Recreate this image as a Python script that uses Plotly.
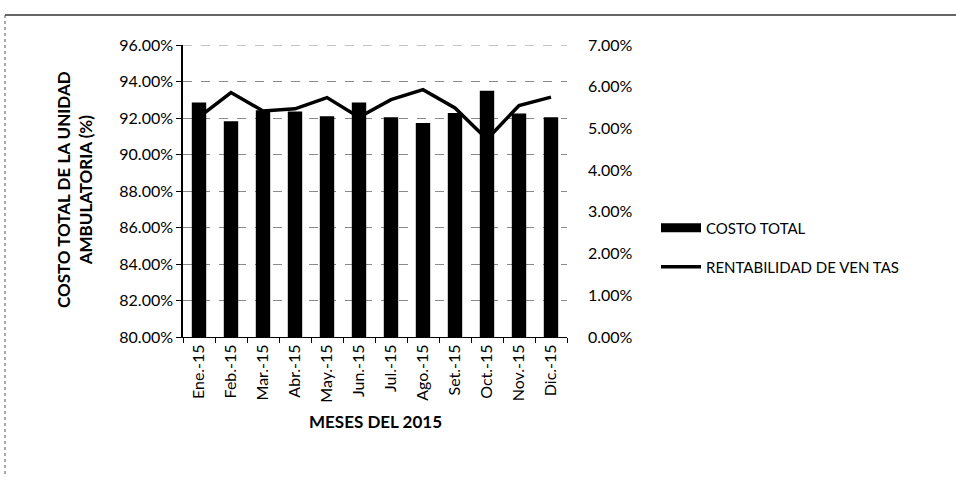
import plotly.graph_objects as go

months = ["Ene.-15", "Feb.-15", "Mar.-15", "Abr.-15", "May.-15", "Jun.-15",
          "Jul.-15", "Ago.-15", "Set.-15", "Oct.-15", "Nov.-15", "Dic.-15"]
costo_total = [92.85, 91.82, 92.42, 92.36, 92.09, 92.85, 92.04, 91.73, 92.27, 93.49, 92.24, 92.04]
rentabilidad = [5.27, 5.86, 5.42, 5.47, 5.74, 5.27, 5.69, 5.93, 5.49, 4.74, 5.55, 5.75]

left_ticks = [80, 82, 84, 86, 88, 90, 92, 94, 96]
right_ticks = [0, 1, 2, 3, 4, 5, 6, 7]

FONT = "Lato"

fig = go.Figure()
fig.add_trace(go.Bar(
    x=months, y=costo_total, name="COSTO TOTAL", showlegend=False,
    marker=dict(color="black", line=dict(width=0)), yaxis="y",
))
# legend key for the bars (wide black rectangle, as in the reference)
fig.add_trace(go.Scatter(
    x=[None], y=[None], name="COSTO TOTAL", mode="lines",
    line=dict(color="black", width=9), legend="legend", showlegend=True, hoverinfo="skip",
))
fig.add_trace(go.Scatter(
    x=months, y=rentabilidad, name="RENTABILIDAD DE VEN TAS", showlegend=True,
    mode="lines", line=dict(color="black", width=3.5),
    legend="legend2", yaxis="y2",
))

W, H = 956, 477
L, R, T, B = 183, 567, 45, 337

def px_x(px):
    return (px - L) / (R - L)

def px_y(py):
    return (B - py) / (B - T)

fig.update_layout(
    width=W, height=H,
    margin=dict(l=L, r=W - R, t=T, b=H - B, autoexpand=False),
    paper_bgcolor="white", plot_bgcolor="white",
    font=dict(family=FONT, size=15, color="black"),
    showlegend=True,
    bargap=0.55,
    xaxis=dict(
        type="category", tickangle=-90, showline=True, linecolor="black", linewidth=1,
        ticks="outside", tickson="boundaries", ticklen=5, tickcolor="black",
        tickfont=dict(size=16, family=FONT), showgrid=False,
    ),
    yaxis=dict(
        range=[80, 96], tickvals=left_ticks, ticktext=[f"{v:.2f}%" for v in left_ticks],
        showline=True, linecolor="black", linewidth=1.5, ticks="outside", ticklen=5,
        tickcolor="black", showgrid=True, gridcolor="#8a8a8a", griddash="dash",
        gridwidth=1, zeroline=False, tickfont=dict(size=16, family=FONT),
    ),
    yaxis2=dict(
        range=[0, 7], tickvals=right_ticks, ticktext=[f"{v:.2f}%" for v in right_ticks],
        overlaying="y", side="right", showline=False, showgrid=False, zeroline=False,
        ticks="", ticklabelstandoff=20, tickfont=dict(size=16, family=FONT),
    ),
    legend=dict(
        x=px_x(656), y=px_y(228), xanchor="left", yanchor="middle",
        bgcolor="rgba(0,0,0,0)", font=dict(size=15, family=FONT), itemwidth=40,
    ),
    legend2=dict(
        x=px_x(656), y=px_y(267), xanchor="left", yanchor="middle",
        bgcolor="rgba(0,0,0,0)", font=dict(size=15, family=FONT), itemwidth=40,
    ),
    annotations=[
        dict(text="<b>COSTO TOTAL DE LA UNIDAD<br>AMBULATORIA (%)</b>", textangle=-90,
             xref="paper", yref="paper", x=px_x(74), y=px_y(190),
             showarrow=False, font=dict(size=17, family=FONT), xanchor="center", yanchor="middle"),
        dict(text="<b>MESES DEL 2015</b>", xref="paper", yref="paper",
             x=px_x(375), y=px_y(421), showarrow=False,
             font=dict(size=17, family=FONT), xanchor="center", yanchor="middle"),
    ],
    shapes=[
        dict(type="line", xref="paper", yref="y", x0=0, x1=1, y0=96, y1=96,
             line=dict(color="#8a8a8a", width=1, dash="dash")),
        dict(type="line", xref="paper", yref="paper",
             x0=px_x(5), x1=px_x(W), y0=px_y(15), y1=px_y(15),
             line=dict(color="#333", width=1.5)),
        dict(type="line", xref="paper", yref="paper",
             x0=px_x(5), x1=px_x(5), y0=px_y(15), y1=px_y(H),
             line=dict(color="#555", width=1, dash="dot")),
    ],
)

fig.write_html("out.html", config={"displayModeBar": False},
               post_script="document.body.style.margin='0';")
